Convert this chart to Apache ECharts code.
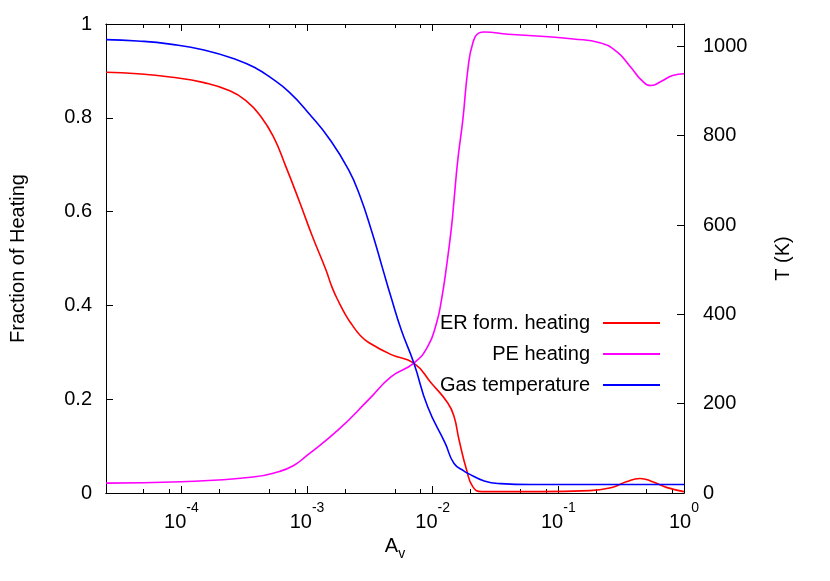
<!DOCTYPE html>
<html>
<head>
<meta charset="UTF-8">
<title>Fraction of Heating</title>
<script src="https://cdn.jsdelivr.net/npm/echarts@6/dist/echarts.min.js"></script>
<style>
    html, body { margin: 0; padding: 0; background: #fff; }
    #chart1 { width: 830px; height: 581px; }
</style>
</head>
<body>
<div id="chart1"></div>
<script type="text/javascript">
// values; x is log10(Av)
var erX = [-4.60, -4.35, -4.09, -3.82, -3.61, -3.48, -3.38, -3.27, -3.17, -3.06, -2.96, -2.85, -2.80, -2.745, -2.69, -2.64, -2.58, -2.51, -2.33, -2.15, -2.01, -1.88, -1.83, -1.79, -1.73, -1.68, -1.61, -1.14, -0.75, -0.56, -0.46, -0.35, -0.25, -0.14, 0];
var erY = [0.897, 0.894, 0.887, 0.875, 0.857, 0.835, 0.807, 0.761, 0.697, 0.621, 0.549, 0.476, 0.438, 0.406, 0.378, 0.358, 0.337, 0.321, 0.295, 0.277, 0.234, 0.192, 0.163, 0.113, 0.049, 0.013, 0.003, 0.003, 0.005, 0.013, 0.024, 0.031, 0.024, 0.012, 0.003];

var peX = [-4.60, -4.00, -3.43, -3.22, -3.11, -3.01, -2.75, -2.51, -2.33, -2.15, -2.04, -1.97, -1.93, -1.89, -1.85, -1.83, -1.80, -1.76, -1.72, -1.68, -1.63, -1.59, -1.40, -1.14, -0.88, -0.67, -0.54, -0.43, -0.33, -0.26, -0.18, -0.09, 0];
var peY = [0.021, 0.024, 0.034, 0.046, 0.058, 0.078, 0.135, 0.199, 0.248, 0.277, 0.312, 0.362, 0.412, 0.483, 0.568, 0.625, 0.711, 0.796, 0.903, 0.960, 0.981, 0.983, 0.978, 0.974, 0.968, 0.960, 0.942, 0.910, 0.878, 0.869, 0.878, 0.890, 0.894];

var tX = [-4.60, -4.35, -4.09, -3.82, -3.56, -3.40, -3.30, -3.14, -2.98, -2.82, -2.67, -2.58, -2.48, -2.40, -2.33, -2.25, -2.15, -2.04, -1.90, -1.83, -1.75, -1.72, -1.59, -1.46, -1.22, 0];
var tY = [1015, 1012, 1005, 992, 970, 950, 932, 897, 848, 792, 724, 666, 581, 504, 437, 365, 291, 193, 111, 66, 49, 44, 27, 21, 19, 19];

var xMajor = [-4, -3, -2, -1, 0];
var xMinor = [];
[-5, -4, -3, -2, -1].forEach(function (d) {
    [2, 5, 8].forEach(function (k) { xMinor.push(d + Math.log10(k)); });
});
var yLeftTicks = [0, 0.2, 0.4, 0.6, 0.8, 1];
var yRightTicks = [0, 200, 400, 600, 800, 1000];

var xMin = -4.6, xMax = 0;
var font = 'Liberation Sans, Arial, sans-serif';

function zip(xs, ys) {
    return xs.map(function (x, i) { return [x, ys[i]]; });
}

function xAxisDef(pos, ticks, len, showLabel) {
    return {
        type: 'value',
        position: pos,
        min: xMin,
        max: xMax,
        axisLine: { show: true, onZero: false, lineStyle: { color: '#000', width: 1 } },
        axisTick: { show: true, inside: true, length: len, customValues: ticks, lineStyle: { color: '#000' } },
        axisLabel: {
            show: showLabel,
            customValues: xMajor,
            margin: 8,
            formatter: function (v) { return '{b|10}{s|' + v + '}'; },
            rich: {
                b: { fontSize: 20, fontFamily: font, color: '#000', lineHeight: 31, verticalAlign: 'bottom' },
                s: { fontSize: 14, fontFamily: font, color: '#000', verticalAlign: 'top' }
            }
        },
        splitLine: { show: false }
    };
}

function lineSeries(name, xs, ys, yIdx, color) {
    return {
        name: name,
        type: 'line',
        xAxisIndex: 0,
        yAxisIndex: yIdx,
        data: zip(xs, ys),
        symbol: 'none',
        smooth: 0.5,
        lineStyle: { color: color, width: 1.6 },
        itemStyle: { color: color }
    };
}

var chart1 = echarts.init(document.getElementById('chart1'));

var xAxes = [
    xAxisDef('bottom', xMajor, 7, true),
    xAxisDef('bottom', xMinor, 4, false),
    xAxisDef('top', xMajor, 7, false),
    xAxisDef('top', xMinor, 4, false)
];
xAxes[0].name = '{a|A}{v|v}';
xAxes[0].nameLocation = 'middle';
xAxes[0].nameGap = 42;
xAxes[0].nameTextStyle = {
    rich: {
        a: { fontSize: 20, fontFamily: font, color: '#000', lineHeight: 24, verticalAlign: 'top' },
        v: { fontSize: 14, fontFamily: font, color: '#000', verticalAlign: 'bottom' }
    }
};

var option = {
    animation: false,
    backgroundColor: '#fff',
    textStyle: { fontFamily: font },
    grid: { left: 102, right: 146, top: 24, bottom: 88 },
    legend: {
        orient: 'vertical',
        right: 165,
        top: 308,
        align: 'right',
        icon: 'rect',
        itemWidth: 57,
        itemHeight: 2,
        itemGap: 11,
        textStyle: { fontSize: 20, fontFamily: font, color: '#000', lineHeight: 20, padding: [0, 8, 0, 0] },
        data: ['ER form. heating', 'PE heating', 'Gas temperature']
    },
    xAxis: xAxes,
    yAxis: [
        {
            type: 'value',
            position: 'left',
            min: 0,
            max: 1,
            interval: 0.2,
            name: 'Fraction of Heating',
            nameLocation: 'middle',
            nameGap: 78,
            nameTextStyle: { fontSize: 20, fontFamily: font, color: '#000' },
            axisLine: { show: true, onZero: false, lineStyle: { color: '#000' } },
            axisTick: { show: true, inside: true, length: 7, customValues: yLeftTicks, lineStyle: { color: '#000' } },
            axisLabel: { customValues: yLeftTicks, fontSize: 20, fontFamily: font, color: '#000', margin: 14 },
            splitLine: { show: false }
        },
        {
            type: 'value',
            position: 'right',
            min: 0,
            max: 1050,
            name: 'T (K)',
            nameLocation: 'middle',
            nameRotate: 90,
            nameGap: 89,
            nameTextStyle: { fontSize: 20, fontFamily: font, color: '#000' },
            axisLine: { show: true, onZero: false, lineStyle: { color: '#000' } },
            axisTick: { show: true, inside: true, length: 7, customValues: yRightTicks, lineStyle: { color: '#000' } },
            axisLabel: {
                customValues: yRightTicks, fontSize: 20, fontFamily: font, color: '#000', margin: 19,
                formatter: function (v) { return String(v); }
            },
            splitLine: { show: false }
        }
    ],
    series: [
        lineSeries('ER form. heating', erX, erY, 0, '#ff0000'),
        lineSeries('PE heating', peX, peY, 0, '#ff00ff'),
        lineSeries('Gas temperature', tX, tY, 1, '#0000ff')
    ]
};

chart1.setOption(option);
</script>
</body>
</html>
